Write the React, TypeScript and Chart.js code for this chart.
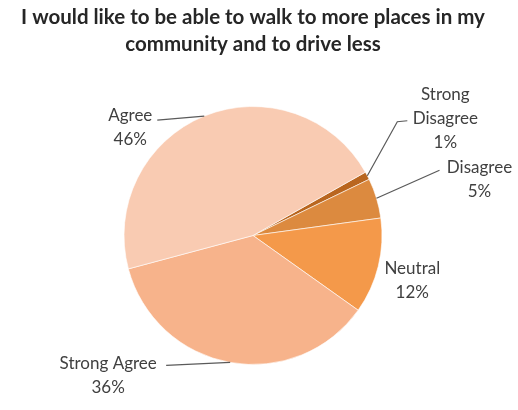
import React, { useEffect, useRef } from 'react';
import { Chart, registerables } from 'chart.js';

Chart.register(...registerables);

const TITLE_LINES = ['I would like to be able to walk to more places in my', 'community and to drive less'];
const CATEGORIES = ['Strong Disagree', 'Disagree', 'Neutral', 'Strong Agree', 'Agree'];
const VALUES = [1, 5, 12, 36, 46];
const PERCENT_LABELS = ['1%', '5%', '12%', '36%', '46%'];
const LABEL_LINES = [['Strong', 'Disagree'], ['Disagree'], ['Neutral'], ['Strong Agree'], ['Agree']];
const COLORS = ['#B9661F', '#DC8A3F', '#F4994A', '#F7B38B', '#F9CBB2'];

// label layout relative to the slice's outer mid point (style only)
const LABEL_LAYOUT = [
  { text: [78, -81], leader: [[30, -54], [40, -55]] },
  { text: [103, -31], leader: [[63, -28]] },
  { text: [34, 2], leader: [] },
  { text: [-122, 1], leader: [[-64, 3]] },
  { text: [-74, -1], leader: [[-47, 4]] },
];

const LABEL_FONT = '17px Lato';
const LINE_GAP = 24;

const labelPlugin = {
  id: 'pieLabels',
  afterDatasetsDraw(chart: any) {
    const ctx = chart.ctx;
    const meta = chart.getDatasetMeta(0);
    ctx.save();
    meta.data.forEach((arc: any, i: number) => {
      const p = arc.getProps(['x', 'y', 'startAngle', 'endAngle', 'outerRadius'], true);
      const mid = (p.startAngle + p.endAngle) / 2;
      const ax = p.x + Math.cos(mid) * p.outerRadius;
      const ay = p.y + Math.sin(mid) * p.outerRadius;
      const lay = LABEL_LAYOUT[i];
      if (lay.leader.length) {
        ctx.beginPath();
        ctx.strokeStyle = '#5a5a5a';
        ctx.lineWidth = 1.2;
        ctx.moveTo(ax, ay);
        lay.leader.forEach((pt: number[]) => ctx.lineTo(ax + pt[0], ay + pt[1]));
        ctx.stroke();
      }
      const lines = [...LABEL_LINES[i], PERCENT_LABELS[i]];
      ctx.fillStyle = '#404040';
      ctx.font = LABEL_FONT;
      ctx.textAlign = 'center';
      ctx.textBaseline = 'middle';
      lines.forEach((t, k) => {
        ctx.fillText(t, ax + lay.text[0], ay + lay.text[1] + k * LINE_GAP);
      });
    });
    ctx.restore();
  },
};

export default function App() {
  const ref = useRef<HTMLCanvasElement>(null);
  useEffect(() => {
    if (!ref.current) return;
    const chart = new Chart(ref.current, {
      type: 'pie',
      data: {
        labels: CATEGORIES,
        datasets: [
          {
            data: VALUES,
            backgroundColor: COLORS,
            borderColor: 'rgba(255,255,255,0.6)',
            borderWidth: 1,
            hoverOffset: 0,
          },
        ],
      },
      options: {
        responsive: false,
        animation: false,
        rotation: 60.6,
        layout: { padding: { left: 0, right: 12, top: 0, bottom: 45 } },
        plugins: {
          legend: { display: false },
          tooltip: { enabled: false },
          title: {
            display: true,
            text: TITLE_LINES,
            color: '#262626',
            font: { family: 'Lato', size: 20.5, weight: 'bold', lineHeight: 27 / 20.5 },
            padding: { top: 4, bottom: 48 },
          },
        },
      },
      plugins: [labelPlugin],
    });
    return () => chart.destroy();
  }, []);
  return (
    <div style={{ position: 'fixed', left: 0, top: 0, width: 518, height: 410, background: '#fff' }}>
      <canvas ref={ref} width={518} height={410} style={{ display: 'block' }} />
    </div>
  );
}
